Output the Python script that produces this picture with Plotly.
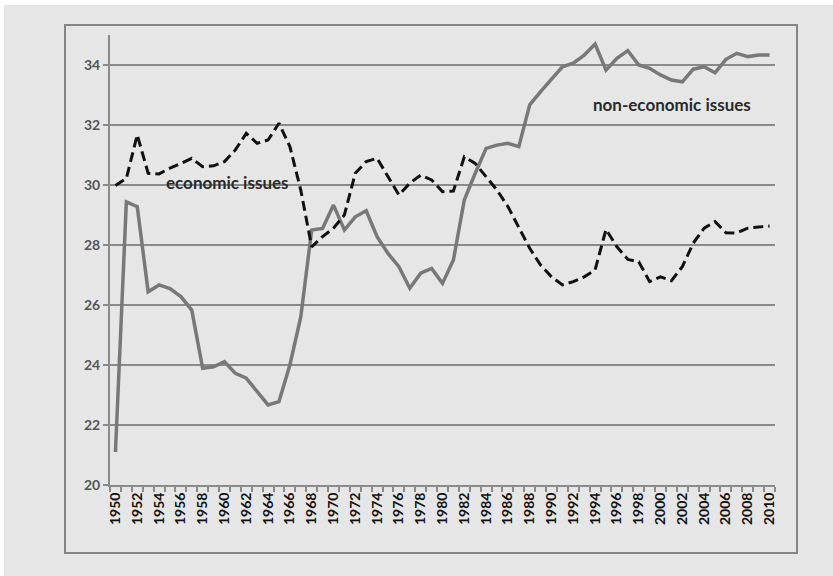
import plotly.graph_objects as go

years = list(range(1950, 2011))

non_economic = [
    21.1, 29.44, 29.28, 26.44, 26.67, 26.55, 26.28, 25.83, 23.89, 23.94,
    24.11, 23.72, 23.56, 23.11, 22.67, 22.78, 24.0, 25.6, 28.5, 28.55,
    29.33, 28.5, 28.94, 29.14, 28.28, 27.72, 27.28, 26.56, 27.06, 27.22,
    26.72, 27.5, 29.5, 30.39, 31.22, 31.33, 31.39, 31.28, 32.67, 33.11,
    33.52, 33.94, 34.06, 34.33, 34.7, 33.83, 34.22, 34.48, 34.0, 33.89,
    33.67, 33.5, 33.44, 33.86, 33.94, 33.74, 34.19, 34.39, 34.28, 34.33,
    34.33,
]

economic = [
    29.98, 30.22, 31.67, 30.39, 30.37, 30.56, 30.72, 30.89, 30.61, 30.64,
    30.78, 31.17, 31.72, 31.39, 31.5, 32.06, 31.28, 29.83, 27.94, 28.28,
    28.56, 29.0, 30.39, 30.78, 30.89, 30.28, 29.67, 30.06, 30.33, 30.17,
    29.78, 29.8, 30.94, 30.72, 30.28, 29.83, 29.28, 28.56, 27.89, 27.33,
    26.94, 26.67, 26.78, 26.94, 27.17, 28.52, 27.94, 27.52, 27.44, 26.78,
    26.94, 26.81, 27.28, 28.06, 28.56, 28.78, 28.41, 28.4, 28.56, 28.6,
    28.63,
]

label_years = list(range(1950, 2011, 2))
y_ticks = list(range(20, 35, 2))

W, H = 833, 576
L, R, T, B = 110, 775, 35, 485
BG = "#e6e6e6"


def px_x(p):
    return (p - L) / (R - L)


def px_y(p):
    return (B - p) / (B - T)


fig = go.Figure()

fig.add_trace(go.Scatter(
    x=years, y=non_economic, mode="lines",
    line=dict(color="#787878", width=3.5),
    name="non-economic issues", showlegend=False,
))
fig.add_trace(go.Scatter(
    x=years, y=economic, mode="lines",
    line=dict(color="#111111", width=3, dash="10px,5px"),
    name="economic issues", showlegend=False,
))

fig.add_annotation(x=1960.3, y=30.07, text="<b>economic issues</b>", showarrow=False,
                   font=dict(family="Lato", size=17, color="#2a2a2a"))
fig.add_annotation(x=2001.05, y=32.7, text="<b>non-economic issues</b>", showarrow=False,
                   font=dict(family="Lato", size=17, color="#2a2a2a"))

# background and outer frame
fig.add_shape(type="rect", xref="paper", yref="paper",
              x0=px_x(4), x1=px_x(W + 5), y0=px_y(5), y1=px_y(H + 5),
              fillcolor=BG, line=dict(width=0), layer="below")
fig.add_shape(type="rect", xref="paper", yref="paper",
              x0=px_x(65), x1=px_x(797), y0=px_y(25), y1=px_y(553),
              fillcolor="rgba(0,0,0,0)", line=dict(color="#858585", width=2), layer="below")

fig.update_layout(
    width=W, height=H,
    margin=dict(l=L, r=W - R, t=T, b=H - B, pad=0),
    paper_bgcolor="white",
    plot_bgcolor=BG,
    showlegend=False,
)

fig.update_xaxes(
    range=[1949.5, 2010.5],
    tickmode="array", tickvals=label_years, ticktext=[str(y) for y in label_years],
    ticks="", tickangle=-90,
    tickfont=dict(family="Lato", size=14, color="#111111", weight="bold"),
    showgrid=False, zeroline=False,
    showline=True, linecolor="#8a8a8a", linewidth=2,
    minor=dict(tickmode="linear", tick0=1949.5, dtick=1, ticks="outside",
               ticklen=5, tickcolor="#8a8a8a", tickwidth=1.5, showgrid=False),
)

fig.update_yaxes(
    range=[20, 35],
    tickmode="array", tickvals=y_ticks,
    ticks="outside", ticklen=5, tickcolor="#8a8a8a", tickwidth=2,
    tickfont=dict(family="Lato", size=14, color="#555555", weight="bold"),
    showgrid=True, gridcolor="#8a8a8a", gridwidth=2,
    zeroline=False,
    showline=True, linecolor="#8a8a8a", linewidth=2,
)

fig.write_html("out.html", config={"displayModeBar": False},
               post_script="document.body.style.margin='0px';")
